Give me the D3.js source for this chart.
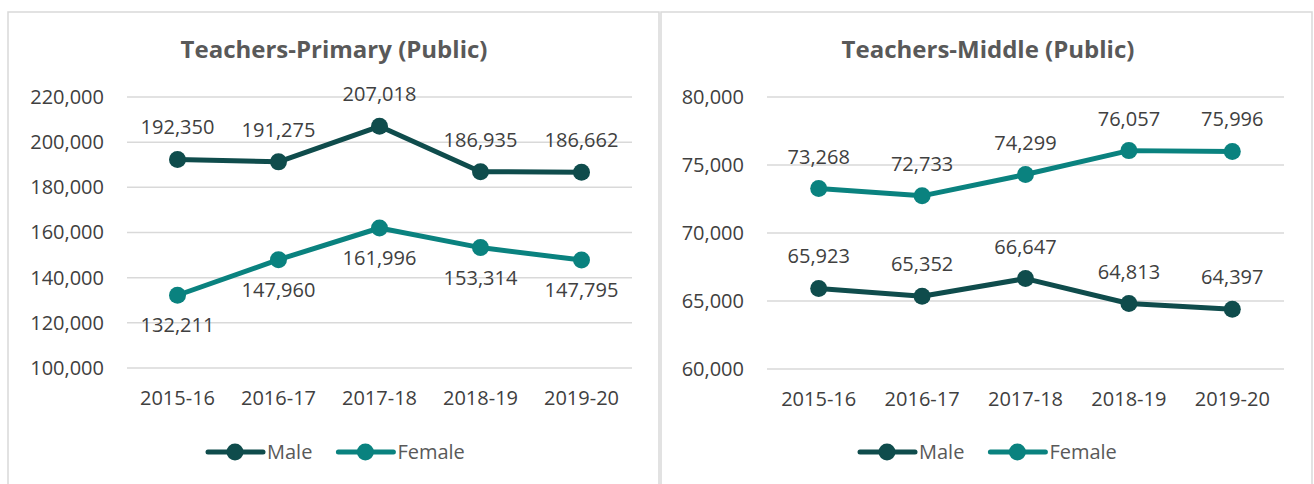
<!DOCTYPE html>
<html>
<head>
<meta charset="utf-8">
<script src="https://cdn.jsdelivr.net/npm/d3@7"></script>
<style>
  body { margin:0; background:#fff; }
  svg text { font-family:"Open Sans", sans-serif; }
</style>
</head>
<body>
<div id="chart"></div>
<script>
// chart data
var years=["2015-16","2016-17","2017-18","2018-19","2019-20"];
var primaryMale=[192350,191275,207018,186935,186662];
var primaryFemale=[132211,147960,161996,153314,147795];
var middleMale=[65923,65352,66647,64813,64397];
var middleFemale=[73268,72733,74299,76057,75996];
var primaryTicks=[100000,120000,140000,160000,180000,200000,220000];
var middleTicks=[60000,65000,70000,75000,80000];

var maleColor="#0f4c4c";
var femaleColor="#0a827f";
var textColor="#404040";
var gridColor="#d9d9d9";

var width=1314, height=484;
var svg=d3.select("#chart").append("svg")
    .attr("width",width).attr("height",height);

var fmt=d3.format(",");

// one panel = one chart
function drawPanel(p){
    var g=svg.append("g");
    g.append("rect")
        .attr("x",p.box[0]).attr("y",p.box[1])
        .attr("width",p.box[2]).attr("height",p.box[3])
        .attr("fill","#fff").attr("stroke",gridColor).attr("stroke-width",1.5);

    g.append("text")
        .attr("x",p.titleX).attr("y",58)
        .attr("text-anchor","middle")
        .attr("font-size",24).attr("font-weight","bold")
        .attr("fill","#595959")
        .text(p.title);

    var x=d3.scaleBand().domain(years).range([p.left,p.right]);
    var y=d3.scaleLinear().domain(d3.extent(p.ticks)).range([p.bottom,p.top]);

    // gridlines
    g.selectAll(".grid").data(p.ticks).enter().append("line")
        .attr("x1",p.left).attr("x2",p.right)
        .attr("y1",d=>y(d)).attr("y2",d=>y(d))
        .attr("stroke",gridColor).attr("stroke-width",1.5);

    var yAxis=g.append("g")
        .attr("transform","translate("+(p.left-10)+",0)")
        .call(d3.axisLeft(y).tickValues(p.ticks).tickFormat(fmt).tickSize(0).tickPadding(13));
    yAxis.select(".domain").remove();
    yAxis.selectAll("text").attr("font-size",20).attr("fill",textColor)
        .attr("font-family","Open Sans, sans-serif");

    var xAxis=g.append("g")
        .attr("transform","translate(0,"+(p.bottom+15)+")")
        .call(d3.axisBottom(x).tickSize(0).tickPadding(8));
    xAxis.select(".domain").remove();
    xAxis.selectAll("text").attr("font-size",20).attr("fill",textColor)
        .attr("font-family","Open Sans, sans-serif");

    var line=d3.line().x((d,i)=>x(years[i])+x.bandwidth()/2).y(d=>y(d));

    p.series.forEach(function(s){
        g.append("path")
            .attr("d",line(s.values))
            .attr("fill","none").attr("stroke",s.color)
            .attr("stroke-width",5).attr("stroke-linejoin","round");
        g.selectAll(null).data(s.values).enter().append("circle")
            .attr("cx",(d,i)=>x(years[i])+x.bandwidth()/2)
            .attr("cy",d=>y(d))
            .attr("r",8.5).attr("fill",s.color);
        g.selectAll(null).data(s.values).enter().append("text")
            .attr("x",(d,i)=>x(years[i])+x.bandwidth()/2)
            .attr("y",d=>s.below ? y(d)+37 : y(d)-25)
            .attr("text-anchor","middle")
            .attr("font-size",20).attr("fill",textColor)
            .text(d=>fmt(d));
    });

    // legend
    var lg=g.append("g").attr("transform","translate("+p.legendX+",452)");
    var lx=0;
    p.series.forEach(function(s){
        lg.append("line").attr("x1",lx).attr("x2",lx+55)
            .attr("y1",0).attr("y2",0)
            .attr("stroke",s.color).attr("stroke-width",5).attr("stroke-linecap","round");
        lg.append("circle").attr("cx",lx+27).attr("cy",0).attr("r",8.5).attr("fill",s.color);
        var t=lg.append("text").attr("x",lx+59).attr("y",7)
            .attr("font-size",20).attr("fill","#595959").text(s.name);
        lx+=59+t.node().getComputedTextLength()+26;
    });
}

drawPanel({
    box:[8,12,651,490],
    title:"Teachers-Primary (Public)",
    titleX:334,
    left:127,right:632,top:97,bottom:368,
    ticks:primaryTicks,
    legendX:208,
    series:[
        {name:"Male",values:primaryMale,color:maleColor,below:false},
        {name:"Female",values:primaryFemale,color:femaleColor,below:true}
    ]
});

drawPanel({
    box:[661,12,651,490],
    title:"Teachers-Middle (Public)",
    titleX:988,
    left:767,right:1284,top:97,bottom:369,
    ticks:middleTicks,
    legendX:860,
    series:[
        {name:"Male",values:middleMale,color:maleColor,below:false},
        {name:"Female",values:middleFemale,color:femaleColor,below:false}
    ]
});
</script>
</body>
</html>
